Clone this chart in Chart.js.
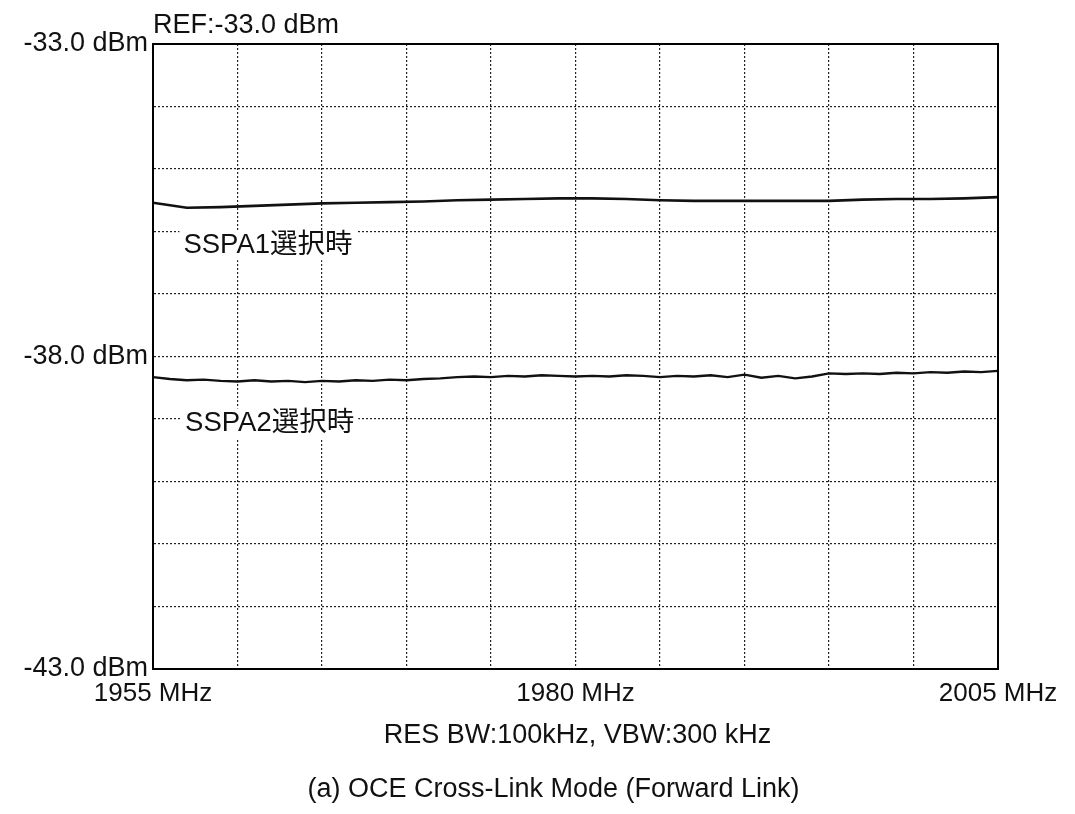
<!DOCTYPE html>
<html>
<head>
<meta charset="utf-8">
<title>OCE Cross-Link Mode (Forward Link)</title>
<style>
  body { margin: 0; background: #fff; }
  canvas { display: block; }
</style>
<script src="https://cdn.jsdelivr.net/npm/chart.js@4.4.0/dist/chart.umd.min.js"></script>
</head>
<body>
<canvas id="spectrum" width="1075" height="814"></canvas>
<script>
// axes
const freqRange = [1955, 2005];          // MHz
const freqTicks = [1955, 1980, 2005];
const levelRange = [-43, -33];           // dBm
const levelTicks = [-43, -38, -33];

// SSPA1 trace (read every 2 MHz)
const sspa1Freq = [1955, 1957, 1959, 1961, 1963, 1965, 1967, 1969, 1971, 1973, 1975, 1977, 1979,
                   1981, 1983, 1985, 1987, 1989, 1991, 1993, 1995, 1997, 1999, 2001, 2003, 2005];
const sspa1Level = [-35.54, -35.62, -35.61, -35.59, -35.57, -35.55, -35.54, -35.53, -35.52, -35.50, -35.49, -35.48, -35.47,
                    -35.47, -35.48, -35.50, -35.51, -35.51, -35.51, -35.51, -35.51, -35.49, -35.48, -35.48, -35.47, -35.45];

// SSPA2 trace (read every 1 MHz)
const sspa2Freq = [1955, 1956, 1957, 1958, 1959, 1960, 1961, 1962, 1963, 1964, 1965, 1966, 1967, 1968, 1969, 1970,
                   1971, 1972, 1973, 1974, 1975, 1976, 1977, 1978, 1979, 1980, 1981, 1982, 1983, 1984, 1985, 1986,
                   1987, 1988, 1989, 1990, 1991, 1992, 1993, 1994, 1995, 1996, 1997, 1998, 1999, 2000, 2001, 2002,
                   2003, 2004, 2005];
const sspa2Level = [-38.33, -38.36, -38.38, -38.37, -38.39, -38.40, -38.38, -38.40, -38.39, -38.41, -38.39, -38.40, -38.38, -38.39, -38.37, -38.38,
                    -38.36, -38.35, -38.33, -38.32, -38.33, -38.31, -38.32, -38.30, -38.31, -38.32, -38.31, -38.32, -38.30, -38.31, -38.33, -38.31,
                    -38.32, -38.30, -38.33, -38.29, -38.34, -38.31, -38.35, -38.32, -38.27, -38.28, -38.27, -38.28, -38.26, -38.27, -38.25, -38.26,
                    -38.24, -38.25, -38.23];

const seriesNames = ['SSPA1選択時', 'SSPA2選択時'];

const textFont = '"Liberation Sans", Arial, "Noto Sans CJK JP", sans-serif';
const ink = '#111';

function points(xs, ys) {
    return xs.map((x, i) => ({ x: x, y: ys[i] }));
}

// frame, trace labels and captions
const decor = {
    id: 'decor',
    afterDatasetsDraw(chart, args, opts) {
        const { ctx, chartArea: a, scales } = chart;
        ctx.save();
        // top/right edges of the frame
        ctx.strokeStyle = '#000';
        ctx.lineWidth = 2;
        ctx.strokeRect(a.left, a.top, a.right - a.left, a.bottom - a.top);

        // trace labels on white boxes
        ctx.font = '27.5px ' + textFont;
        ctx.textBaseline = 'middle';
        ctx.textAlign = 'left';
        opts.notes.forEach((n, i) => {
            const x = scales.x.getPixelForValue(n.x);
            const y = scales.y.getPixelForValue(n.y);
            const w = ctx.measureText(seriesNames[i]).width;
            ctx.fillStyle = '#fff';
            ctx.fillRect(x - 4, y - 15, w + 8, 30);
            ctx.fillStyle = ink;
            ctx.fillText(seriesNames[i], x, y);
        });

        // texts outside the plot
        ctx.fillStyle = ink;
        ctx.font = '27px ' + textFont;
        ctx.fillText('REF:-33.0 dBm', a.left, 26);
        ctx.textAlign = 'center';
        const cx = (a.left + a.right) / 2;
        ctx.fillText('RES BW:100kHz, VBW:300 kHz', cx + 2, a.bottom + 67);
        ctx.fillText('(a) OCE Cross-Link Mode (Forward Link)', cx - 22, a.bottom + 121);
        ctx.restore();
    }
};

new Chart(document.getElementById('spectrum'), {
    type: 'line',
    data: {
        datasets: [{
            label: seriesNames[0],
            data: points(sspa1Freq, sspa1Level),
            borderColor: '#111',
            borderWidth: 2.6,
            pointRadius: 0,
            tension: 0
        }, {
            label: seriesNames[1],
            data: points(sspa2Freq, sspa2Level),
            borderColor: '#111',
            borderWidth: 2.4,
            pointRadius: 0,
            tension: 0
        }]
    },
    options: {
        responsive: false,
        animation: false,
        layout: { padding: { top: 44, right: 77, left: 0, bottom: 0 } },
        scales: {
            x: {
                type: 'linear',
                min: freqRange[0],
                max: freqRange[1],
                afterFit: s => { s.height = 145; },
                grid: { color: '#222', lineWidth: 1.2, drawTicks: false },
                border: { color: '#000', width: 2, dash: [2, 2] },
                ticks: {
                    stepSize: 5,
                    autoSkip: false,
                    maxRotation: 0,
                    padding: 9,
                    color: ink,
                    font: { family: textFont, size: 26 },
                    callback: v => freqTicks.includes(v) ? v + ' MHz' : ''
                }
            },
            y: {
                min: levelRange[0],
                max: levelRange[1],
                afterFit: s => { s.width = 153; },
                grid: { color: '#222', lineWidth: 1.2, drawTicks: false },
                border: { color: '#000', width: 2, dash: [2, 2] },
                ticks: {
                    stepSize: 1,
                    padding: 5,
                    color: ink,
                    font: { family: textFont, size: 27 },
                    callback: v => levelTicks.includes(v) ? v.toFixed(1) + ' dBm' : ''
                }
            }
        },
        plugins: {
            legend: { display: false },
            tooltip: { enabled: false },
            decor: {
                notes: [{ x: 1956.8, y: -36.22 }, { x: 1956.9, y: -39.07 }]
            }
        }
    },
    plugins: [decor]
});
</script>
</body>
</html>
